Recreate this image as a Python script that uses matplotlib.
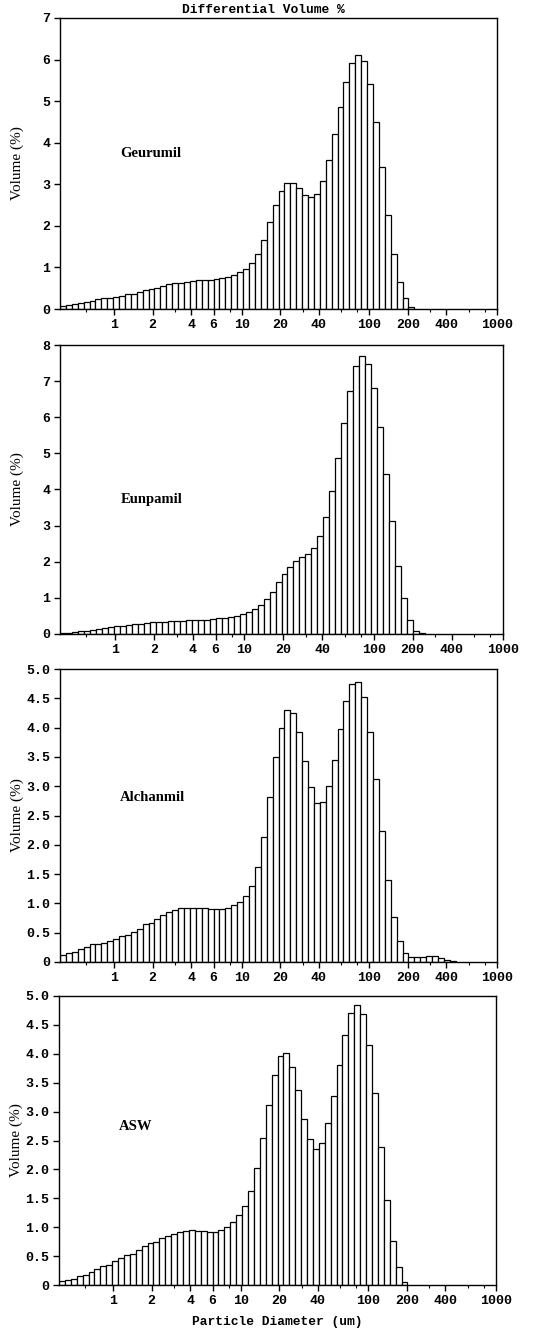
# Differential volume % histograms for four samples (laser diffraction sizer)
import numpy as np
import matplotlib.pyplot as plt
from matplotlib.ticker import FixedLocator, NullFormatter

# channel boundaries of the sizer, um (log spaced, 74 channels)
edges = np.geomspace(0.375, 1000, 75)

# volume % per channel
geurumil = [0.07, 0.09, 0.11, 0.14, 0.16, 0.2, 0.24, 0.26, 0.26, 0.29,
            0.32, 0.36, 0.36, 0.41, 0.46, 0.47, 0.51, 0.55, 0.6, 0.62,
            0.63, 0.66, 0.67, 0.69, 0.69, 0.7, 0.72, 0.75, 0.77, 0.82,
            0.88, 0.96, 1.1, 1.33, 1.67, 2.09, 2.5, 2.85, 3.03, 3.03,
            2.91, 2.75, 2.7, 2.77, 3.09, 3.59, 4.2, 4.85, 5.47, 5.92,
            6.12, 5.97, 5.42, 4.5, 3.42, 2.27, 1.32, 0.65, 0.26, 0.06]
eunpamil = [0.03, 0.04, 0.05, 0.07, 0.09, 0.11, 0.14, 0.17, 0.19, 0.21,
            0.23, 0.25, 0.27, 0.29, 0.3, 0.32, 0.33, 0.34, 0.35, 0.36,
            0.37, 0.38, 0.39, 0.39, 0.4, 0.41, 0.43, 0.45, 0.47, 0.5,
            0.55, 0.62, 0.68, 0.8, 0.96, 1.17, 1.44, 1.65, 1.86, 2.03,
            2.12, 2.22, 2.39, 2.71, 3.23, 3.97, 4.88, 5.85, 6.73, 7.42,
            7.7, 7.48, 6.8, 5.72, 4.43, 3.12, 1.88, 0.99, 0.4, 0.07, 0.02]
alchanmil = [0.12, 0.16, 0.17, 0.22, 0.26, 0.3, 0.31, 0.32, 0.36, 0.4,
             0.44, 0.46, 0.52, 0.57, 0.65, 0.67, 0.74, 0.8, 0.86, 0.88,
             0.92, 0.93, 0.93, 0.93, 0.93, 0.91, 0.9, 0.91, 0.93, 0.97,
             1.03, 1.12, 1.29, 1.62, 2.14, 2.81, 3.49, 4.0, 4.3, 4.25,
             3.92, 3.43, 2.98, 2.72, 2.73, 3.01, 3.45, 3.97, 4.45, 4.75,
             4.78, 4.52, 3.93, 3.12, 2.23, 1.4, 0.76, 0.36, 0.16, 0.08,
             0.08, 0.08, 0.1, 0.1, 0.07, 0.04, 0.02]
asw = [0.07, 0.09, 0.11, 0.15, 0.17, 0.22, 0.27, 0.33, 0.35, 0.41,
       0.46, 0.52, 0.54, 0.6, 0.67, 0.73, 0.75, 0.81, 0.85, 0.88,
       0.92, 0.94, 0.95, 0.94, 0.93, 0.91, 0.91, 0.95, 1.0, 1.09,
       1.21, 1.37, 1.63, 2.02, 2.54, 3.12, 3.63, 3.97, 4.02, 3.78,
       3.37, 2.88, 2.52, 2.36, 2.46, 2.8, 3.27, 3.8, 4.32, 4.7,
       4.85, 4.68, 4.15, 3.32, 2.38, 1.47, 0.76, 0.31, 0.05]

names = ["Geurumil", "Eunpamil", "Alchanmil", "ASW"]
series = [geurumil, eunpamil, alchanmil, asw]
y_max = [7, 8, 5, 5]
y_ticks = [[0, 1, 2, 3, 4, 5, 6, 7],
           [0, 1, 2, 3, 4, 5, 6, 7, 8],
           [0, 0.5, 1, 1.5, 2, 2.5, 3, 3.5, 4, 4.5, 5],
           [0, 0.5, 1, 1.5, 2, 2.5, 3, 3.5, 4, 4.5, 5]]
y_labels = [["0", "1", "2", "3", "4", "5", "6", "7"],
            ["0", "1", "2", "3", "4", "5", "6", "7", "8"],
            ["0", "0.5", "1.0", "1.5", "2.0", "2.5", "3.0", "3.5", "4.0", "4.5", "5.0"],
            ["0", "0.5", "1.0", "1.5", "2.0", "2.5", "3.0", "3.5", "4.0", "4.5", "5.0"]]
x_ticks = [1, 2, 4, 6, 10, 20, 40, 100, 200, 400, 1000]
x_minor = [0.6, 3, 8, 30, 60, 80, 300, 600, 800]

W, H = 535, 1334
fig = plt.figure(figsize=(W / 100, H / 100), dpi=100)

# axes boxes in pixels: left, right, top, bottom
boxes = [(60, 497, 18, 309), (60, 503, 345, 634), (60, 497, 669, 962), (59, 496, 996, 1285)]
name_y = [0.534, 0.467, 0.56, 0.547]

mono = "Liberation Mono"
serif = "Liberation Serif"

for i in range(4):
    l, r, t, b = boxes[i]
    ax = fig.add_axes([l / W, 1 - b / H, (r - l) / W, (b - t) / H])
    vals = series[i]
    n = len(vals)
    ax.bar(edges[:n], vals, width=np.diff(edges)[:n], align="edge",
           color="white", edgecolor="black", linewidth=0.9)
    ax.set_xscale("log")
    ax.set_xlim(0.375, 1000)
    ax.set_ylim(0, y_max[i])
    ax.set_xticks(x_ticks)
    ax.set_xticklabels([str(v) for v in x_ticks])
    ax.xaxis.set_minor_locator(FixedLocator(x_minor))
    ax.xaxis.set_minor_formatter(NullFormatter())
    ax.set_yticks(y_ticks[i])
    ax.set_yticklabels(y_labels[i])
    for lab in ax.get_xticklabels() + ax.get_yticklabels():
        lab.set_fontfamily(mono)
        lab.set_fontweight("bold")
        lab.set_fontsize(9.5)
    ax.tick_params(which="major", direction="out", length=4, width=1, pad=3)
    ax.tick_params(which="minor", direction="out", length=2, width=0.8)
    for s in ax.spines.values():
        s.set_linewidth(1)
    ax.set_ylabel("Volume (%)", fontfamily=serif, fontsize=11)
    ax.yaxis.set_label_coords(-0.082, 0.5)
    ax.text(0.137, name_y[i], names[i], transform=ax.transAxes,
            fontfamily=serif, fontweight="bold", fontsize=10.5, va="center")

fig.text(263 / W, 1 - 10 / H, "Differential Volume %", ha="center", va="center",
         fontfamily=mono, fontweight="bold", fontsize=9.3)
fig.text(277 / W, 1 - 1322 / H, "Particle Diameter (um)", ha="center", va="center",
         fontfamily=mono, fontweight="bold", fontsize=9.3)

fig.savefig("out.png", dpi=100)
